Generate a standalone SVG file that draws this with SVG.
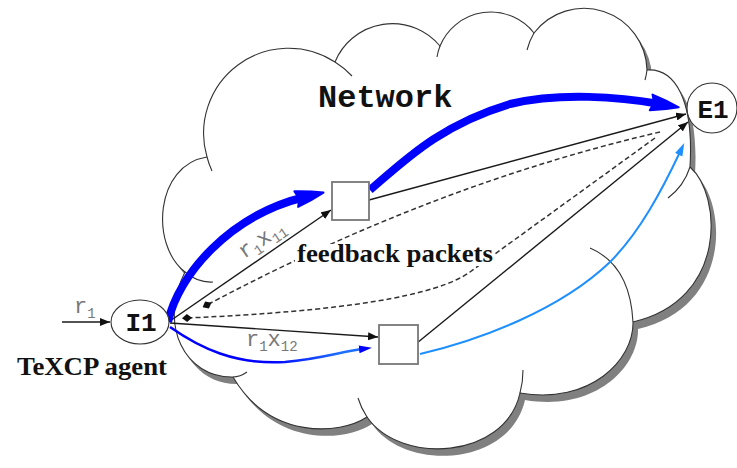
<svg xmlns="http://www.w3.org/2000/svg" width="737" height="468" viewBox="0 0 737 468">
<style>
.cloud{fill:#fff;stroke:#333;stroke-width:1.1}
.spur{fill:none;stroke:#333;stroke-width:1.1}
.node{fill:#fff;stroke:#333;stroke-width:1.1}
.box{fill:#fff;stroke:#777;stroke-width:1.8}
.blk{fill:none;stroke:#1a1a1a;stroke-width:1.4}
.dash{fill:none;stroke:#333;stroke-width:1.5;stroke-dasharray:5 3}
.mono{font-family:"Liberation Mono","Courier New",monospace;font-weight:bold;fill:#111}
.serif{font-family:"Liberation Serif","Times New Roman",serif;font-weight:bold;fill:#111}
.lbl{font-family:"Liberation Mono","Courier New",monospace;fill:#777;font-size:22px}
</style>
<defs>
<marker id="ab" markerUnits="userSpaceOnUse" markerWidth="10" markerHeight="8" refX="10" refY="4" orient="auto"><path d="M0,0 L10,4 L0,8 z" fill="#111"/></marker>
<marker id="bigblue" markerUnits="userSpaceOnUse" markerWidth="34" markerHeight="22" refX="12" refY="11" orient="auto"><path d="M3,3 Q17,6 31,11 Q17,16 3,19 Q7,11 3,3 z" fill="#0000ff" stroke="#0000ff" stroke-width="2" stroke-linejoin="round"/></marker>
<marker id="sblue" markerUnits="userSpaceOnUse" markerWidth="13" markerHeight="10" refX="3" refY="5" orient="auto"><path d="M0,1 L13,5 L0,9 z" fill="#0000ff"/></marker>
<marker id="lblue" markerUnits="userSpaceOnUse" markerWidth="13" markerHeight="10" refX="3" refY="5" orient="auto"><path d="M0,1 L13,5 L0,9 z" fill="#1e8fff"/></marker>
<marker id="dia" markerUnits="userSpaceOnUse" markerWidth="10" markerHeight="8" refX="5" refY="4" orient="auto"><path d="M0,4 L5,0 L10,4 L5,8 z" fill="#111"/></marker>
<linearGradient id="thin" gradientUnits="userSpaceOnUse" x1="270" y1="0" x2="340" y2="0"><stop offset="0" stop-color="#0000ff"/><stop offset="1" stop-color="#1e6fff"/></linearGradient>
</defs>
<g id="cloud">
<path transform="translate(5,7)" fill="#808080" d="M207,157 A85,85 0 0 1 335,62 A62,62 0 0 1 440,46 A55,55 0 0 1 534,33 A63,63 0 0 1 647,70 C675,68 694,100 690,167 C722,195 728,300 633,322 C634,360 590,405 520,393 C505,460 400,465 367,417 C340,435 270,440 233,377 C185,378 158,325 185,272 C150,245 155,165 207,157 Z"/>
<path class="cloud" d="M207,157 A85,85 0 0 1 335,62 A62,62 0 0 1 440,46 A55,55 0 0 1 534,33 A63,63 0 0 1 647,70 C675,68 694,100 690,167 C722,195 728,300 633,322 C634,360 590,405 520,393 C505,460 400,465 367,417 C340,435 270,440 233,377 C185,378 158,325 185,272 C150,245 155,165 207,157 Z"/>
<path class="spur" d="M207,157 A85,85 0 0 0 212,171 M335,62 A85,85 0 0 1 352,76 M440,46 A55,55 0 0 0 437,57 M534,33 A63,63 0 0 0 527,50 M647,70 A63,63 0 0 1 645,80 M690,167 Q684,186 668,198 M590,248 Q630,265 633,322 M523,370 Q523,382 520,393 M367,417 Q361,408 358,398 M233,377 Q240,377 247,372 M185,272 Q198,283 213,282"/>
<text class="mono" x="318" y="107" font-size="32">Network</text>
</g>
<g id="connectors">
<path class="blk" d="M170,321 L331,210" marker-end="url(#ab)"/>
<path class="blk" d="M170,323 L378,337" marker-end="url(#ab)"/>
<path class="blk" d="M369,200 L686,114" marker-end="url(#ab)"/>
<path class="blk" d="M417,343 L688,122" marker-end="url(#ab)"/>
<path class="dash" d="M660,132 Q432,185 207,305" marker-end="url(#dia)"/>
<path class="dash" d="M655,138 L470,272 Q420,308 187,318" marker-end="url(#dia)"/>
<path fill="none" stroke="#0000ff" stroke-width="8" d="M168,322 C178,275 230,215 305,197" marker-end="url(#bigblue)"/>
<path fill="none" stroke="#0000ff" stroke-width="8" d="M370,190 C405,160 440,125 510,104 C560,92 620,97 660,104" marker-end="url(#bigblue)"/>
<path fill="none" stroke="url(#thin)" stroke-width="2.5" d="M170,327 C200,348 235,365 285,362 C320,359 340,352 362,349" marker-end="url(#sblue)"/>
<path fill="none" stroke="#1e8fff" stroke-width="2" d="M420,354 C480,340 560,310 610,262 C640,232 662,190 680,152" marker-end="url(#lblue)"/>
<path class="blk" d="M62,322 L110,322" marker-end="url(#ab)"/>
</g>
<g id="box1"><rect class="box" x="332" y="182" width="37" height="38"/></g>
<g id="box2"><rect class="box" x="379" y="325" width="39" height="39"/></g>
<g id="I1"><ellipse class="node" cx="140" cy="322" rx="29" ry="22"/><text class="mono" x="141" y="331" font-size="26" text-anchor="middle">I1</text></g>
<g id="E1"><ellipse class="node" cx="712" cy="108" rx="25" ry="25"/><text class="mono" x="713" y="118" font-size="26" text-anchor="middle">E1</text></g>
<g id="labels">
<text class="lbl" x="74" y="313">r<tspan font-size="14" dy="5">1</tspan></text>
<text class="lbl" transform="translate(244,259) rotate(-34)">r<tspan font-size="14" dy="5">1</tspan><tspan dy="-5">x</tspan><tspan font-size="14" dy="5">11</tspan></text>
<text class="lbl" x="246" y="346">r<tspan font-size="14" dy="5">1</tspan><tspan dy="-5">x</tspan><tspan font-size="14" dy="5">12</tspan></text>
<rect x="295" y="244" width="200" height="22" fill="#fff"/>
<text class="serif" x="297" y="262" font-size="25" textLength="196" lengthAdjust="spacingAndGlyphs">feedback packets</text>
<text class="serif" x="17" y="375" font-size="25" textLength="150" lengthAdjust="spacingAndGlyphs">TeXCP agent</text>
</g>
</svg>
